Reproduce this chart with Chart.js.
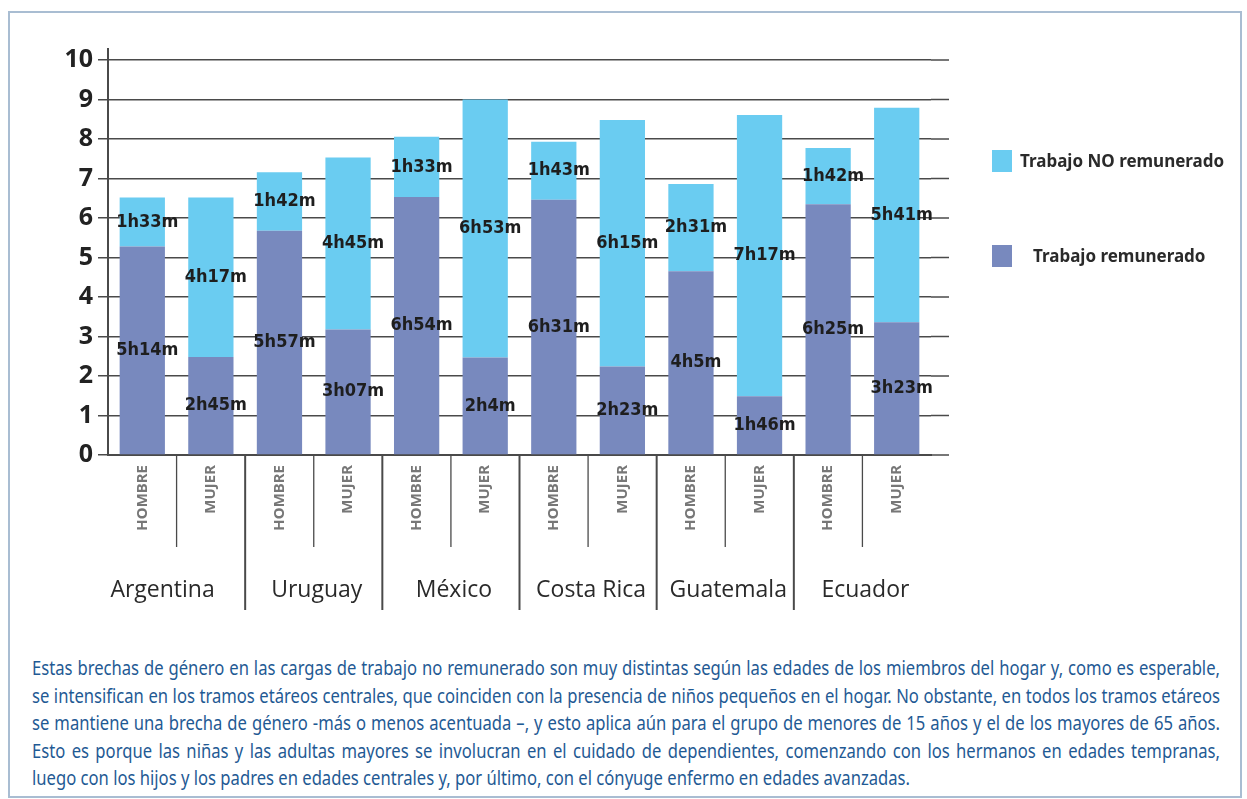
<!DOCTYPE html>
<html lang="es">
<head>
<meta charset="UTF-8">
<title>Trabajo remunerado y no remunerado</title>
<script src="https://cdn.jsdelivr.net/npm/chart.js"></script>
<style>
  body { margin: 0; background: #fff; width: 1247px; height: 799px; position: relative; overflow: hidden; }
  .frame { position: absolute; left: 8px; top: 11px; width: 1230px; height: 783px; border: 2px solid #a9bdd2; }
  #chart-box { position: absolute; left: 0; top: 0; width: 1247px; height: 640px; }
  .caption { position: absolute; left: 32px; top: 654px; color: #1f5a94; transform-origin: 0 0;
             font-family: "Noto Sans", sans-serif; font-size: 20px; line-height: 27.5px; }
  .caption div { text-align: justify; text-align-last: justify; white-space: nowrap; }
  .caption div:last-child { text-align-last: left; }
  .caption span { display: inline-block; white-space: nowrap; }
</style>
</head>
<body>
<div class="frame"></div>
<div id="chart-box"><canvas id="chart" width="1247" height="640"></canvas></div>
<div class="caption" id="caption"></div>

<script>
// data (hours)
const countries = ['Argentina', 'Uruguay', 'México', 'Costa Rica', 'Guatemala', 'Ecuador'];
const sexes = ['HOMBRE', 'MUJER', 'HOMBRE', 'MUJER', 'HOMBRE', 'MUJER', 'HOMBRE', 'MUJER', 'HOMBRE', 'MUJER', 'HOMBRE', 'MUJER'];
const paid = [5.28, 2.48, 5.68, 3.18, 6.53, 2.47, 6.46, 2.24, 4.65, 1.49, 6.35, 3.36];
const unpaid = [1.24, 4.04, 1.48, 4.35, 1.53, 6.53, 1.47, 6.24, 2.21, 7.12, 1.42, 5.43];
const paidLabels = ['5h14m', '2h45m', '5h57m', '3h07m', '6h54m', '2h4m', '6h31m', '2h23m', '4h5m', '1h46m', '6h25m', '3h23m'];
const unpaidLabels = ['1h33m', '4h17m', '1h42m', '4h45m', '1h33m', '6h53m', '1h43m', '6h15m', '2h31m', '7h17m', '1h42m', '5h41m'];
const yTicks = [0, 1, 2, 3, 4, 5, 6, 7, 8, 9, 10];

const captionLines = [
  'Estas brechas de género en las cargas de trabajo no remunerado son muy distintas según las edades de los miembros del hogar y, como es esperable,',
  'se intensifican en los tramos etáreos centrales, que coinciden con la presencia de niños pequeños en el hogar. No obstante, en todos los tramos etáreos',
  'se mantiene una brecha de género -más o menos acentuada –, y esto aplica aún para el grupo de menores de 15 años y el de los mayores de 65 años.',
  'Esto es porque las niñas y las adultas mayores se involucran en el cuidado de dependientes, comenzando con los hermanos en edades tempranas,',
  'luego con los hijos y los padres en edades centrales y, por último, con el cónyuge enfermo en edades avanzadas.'
];

// caption: narrow the font horizontally so the lines fit like the original
const cap = document.getElementById('caption');
const spans = captionLines.map(t => {
  const s = document.createElement('span');
  s.textContent = t;
  cap.appendChild(s);
  cap.appendChild(document.createElement('br'));
  return s;
});
const widths = spans.map(s => s.getBoundingClientRect().width);
const fullWidth = 1188;
let k = 878 / widths[widths.length - 1];
widths.slice(0, -1).forEach(w => { k = Math.min(k, fullWidth / w); });
cap.innerHTML = '';
captionLines.forEach(t => {
  const d = document.createElement('div');
  d.textContent = t;
  cap.appendChild(d);
});
cap.style.width = (fullWidth / k) + 'px';
cap.style.transform = `scaleX(${k})`;

const gridColor = '#4a4a4a';

const decor = {
  id: 'decor',
  beforeDatasetsDraw(chart) {
    const { ctx, chartArea: a, scales: { y } } = chart;
    ctx.save();
    ctx.strokeStyle = gridColor;
    ctx.lineWidth = 1.5;
    // grid lines run a little past the last bar
    yTicks.forEach(v => {
      const py = y.getPixelForValue(v);
      ctx.beginPath();
      ctx.moveTo(a.right, py);
      ctx.lineTo(a.right + 18, py);
      ctx.stroke();
    });
    // y axis sticks out above 10
    ctx.lineWidth = 2;
    ctx.beginPath();
    ctx.moveTo(a.left, a.top - 12);
    ctx.lineTo(a.left, a.top);
    ctx.stroke();
    ctx.restore();
  },
  afterDatasetsDraw(chart) {
    const { ctx, chartArea: a, scales: { x } } = chart;
    ctx.save();

    // value labels inside the segments
    ctx.font = 'bold 18px "DejaVu Sans Condensed", sans-serif';
    ctx.fillStyle = '#1e1e1e';
    ctx.textAlign = 'center';
    ctx.textBaseline = 'middle';
    chart.data.datasets.forEach((ds, di) => {
      chart.getDatasetMeta(di).data.forEach((bar, i) => {
        ctx.fillText(ds.valueLabels[i], bar.x + 5, (bar.y + bar.base) / 2);
      });
    });

    // separators under the axis
    ctx.strokeStyle = gridColor;
    for (let i = 0; i < sexes.length - 1; i++) {
      const px = (x.getPixelForValue(i) + x.getPixelForValue(i + 1)) / 2;
      const long = i % 2 === 1;
      ctx.lineWidth = long ? 2 : 1.3;
      ctx.beginPath();
      ctx.moveTo(px, a.bottom);
      ctx.lineTo(px, a.bottom + (long ? 155 : 92));
      ctx.stroke();
    }

    // country names
    ctx.font = '23px "Open Sans", sans-serif';
    ctx.fillStyle = '#2a2a2a';
    countries.forEach((c, i) => {
      const px = (x.getPixelForValue(2 * i) + x.getPixelForValue(2 * i + 1)) / 2;
      ctx.fillText(c, i === 0 ? px - 14 : px + 3, a.bottom + 135);
    });

    // legend, top series first
    ctx.font = 'bold 17px "Noto Sans", sans-serif';
    ctx.textAlign = 'left';
    const items = chart.data.datasets.slice().reverse();
    items.forEach((ds, n) => {
      const cy = 161 + n * 95;
      ctx.fillStyle = ds.backgroundColor;
      ctx.fillRect(992, cy - 11, 20, 22);
      ctx.fillStyle = '#2a2a2a';
      ctx.fillText(ds.label, n === 0 ? 1020 : 1033, cy + 1);
    });

    ctx.restore();
  }
};

new Chart(document.getElementById('chart'), {
  type: 'bar',
  data: {
    labels: sexes,
    datasets: [
      {
        label: 'Trabajo remunerado',
        data: paid,
        valueLabels: paidLabels,
        backgroundColor: '#7889be',
        barPercentage: 0.66,
        categoryPercentage: 1
      },
      {
        label: 'Trabajo NO remunerado',
        data: unpaid,
        valueLabels: unpaidLabels,
        backgroundColor: '#6accf1',
        barPercentage: 0.66,
        categoryPercentage: 1
      }
    ]
  },
  options: {
    responsive: false,
    animation: false,
    devicePixelRatio: 1,
    layout: { padding: { top: 60, right: 316, left: 0, bottom: 0 } },
    plugins: { legend: { display: false }, tooltip: { enabled: false } },
    scales: {
      x: {
        stacked: true,
        afterFit: s => { s.height = 185; },
        grid: { display: false, drawTicks: false },
        border: { display: true, color: gridColor, width: 2 },
        ticks: {
          minRotation: 90, maxRotation: 90, padding: 10,
          color: '#777',
          font: { family: '"Noto Sans", sans-serif', weight: 'bold', size: 15 }
        }
      },
      y: {
        stacked: true,
        min: 0, max: 10,
        afterFit: s => { s.width = 108; },
        afterBuildTicks: s => { s.ticks = yTicks.map(v => ({ value: v })); },
        grid: { color: gridColor, lineWidth: 1.5, tickLength: 10, drawTicks: true },
        border: { display: true, color: gridColor, width: 2 },
        ticks: {
          padding: 5,
          color: '#222',
          font: { family: '"Noto Sans", sans-serif', weight: 'bold', size: 25 }
        }
      }
    }
  },
  plugins: [decor]
});
</script>
</body>
</html>
